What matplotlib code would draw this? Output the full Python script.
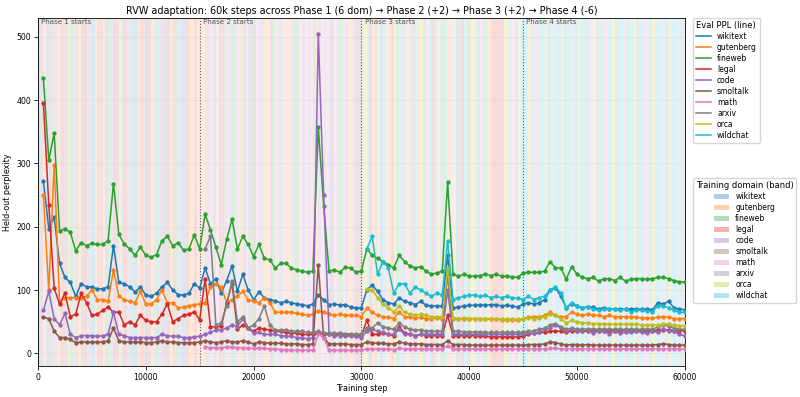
import numpy as np
import matplotlib
matplotlib.use("Agg")
import matplotlib.pyplot as plt
from matplotlib.lines import Line2D
from matplotlib.patches import Patch

domains = ["wikitext", "gutenberg", "fineweb", "legal", "code", "smoltalk",
           "math", "arxiv", "orca", "wildchat"]
colors = ["#1f77b4", "#ff7f0e", "#2ca02c", "#d62728", "#9467bd", "#8c564b",
          "#e377c2", "#7f7f7f", "#bcbd22", "#17becf"]
codes = {"w": "wikitext", "g": "gutenberg", "f": "fineweb", "l": "legal", "c": "code",
         "s": "smoltalk", "m": "math", "a": "arxiv", "o": "orca", "h": "wildchat"}

phase_starts = [0, 15000, 30000, 45000]
phase_labels = ["Phase 1 starts", "Phase 2 starts", "Phase 3 starts", "Phase 4 starts"]
band_width = 250
phase_bands = [
    "wlgwlfcgsl" "wgfcsgwlcf" "wgslgwfcls" "gwlcfwwgls" "wlgfwcswlg" "sfcwwlgglg",
    "mgacmfmlsa" "mcfamgwmas" "fmcagmlfma" "cmgmafsmcm" "amfgcmamws" "mafmcgmalw",
    "gohlgaowhm" "glofhcomas" "hgofmhlaoc" "fhgmowalhf" "gohamfhgll" "llloghmaoh",
    "hhohmahhoa" "hmhhoahhmh" "ohhahmoahh" "mhhoahhmah" "hoahhmhaoh" "hmhaohhmha",
]

steps = np.arange(500, 60001, 500)

wikitext = [272, 197, 215, 142, 120, 112, 90, 110, 105, 105,
            102, 102, 105, 170, 112, 110, 105, 97, 105, 92,
            90, 95, 105, 112, 100, 93, 92, 95, 110, 103,
            135, 110, 118, 95, 115, 138, 98, 125, 100, 85,
            97, 88, 85, 83, 80, 82, 80, 78, 77, 75,
            78, 92, 85, 77, 78, 76, 77, 73, 72, 72,
            100, 108, 98, 85, 80, 78, 88, 82, 80, 77,
            82, 76, 75, 75, 75, 155, 72, 73, 75, 76,
            76, 77, 76, 77, 77, 75, 76, 75, 73, 78,
            80, 78, 80, 85, 100, 104, 90, 72, 78, 75,
            72, 73, 73, 70, 72, 70, 70, 70, 70, 70,
            70, 70, 70, 69, 80, 78, 82, 72, 70, 69]
gutenberg = [250, 100, 298, 80, 88, 88, 88, 88, 90, 100,
             85, 85, 82, 132, 90, 85, 82, 80, 98, 78,
             78, 85, 100, 80, 80, 72, 73, 75, 77, 78,
             80, 105, 110, 105, 80, 85, 90, 98, 85, 82,
             80, 88, 80, 65, 65, 65, 65, 63, 62, 60,
             62, 67, 65, 62, 60, 62, 60, 60, 60, 58,
             72, 65, 60, 58, 57, 55, 65, 58, 57, 56,
             57, 55, 55, 56, 55, 120, 55, 54, 55, 55,
             55, 55, 54, 54, 54, 53, 53, 53, 52, 55,
             57, 58, 58, 60, 65, 60, 58, 58, 65, 62,
             60, 62, 60, 60, 58, 60, 58, 58, 58, 58,
             57, 56, 56, 56, 57, 58, 57, 55, 55, 55]
fineweb = [435, 305, 348, 193, 197, 191, 162, 175, 170, 174,
           172, 172, 178, 268, 188, 173, 165, 155, 168, 155,
           152, 156, 178, 185, 170, 175, 163, 165, 187, 165,
           220, 195, 168, 140, 180, 212, 165, 185, 172, 153,
           172, 150, 148, 135, 142, 142, 135, 132, 130, 128,
           130, 357, 233, 130, 132, 128, 136, 135, 128, 130,
           165, 155, 150, 145, 140, 135, 155, 145, 138, 135,
           137, 130, 125, 127, 130, 270, 125, 122, 125, 122,
           122, 123, 125, 123, 125, 122, 122, 121, 120, 127,
           128, 128, 128, 130, 145, 135, 135, 117, 137, 125,
           120, 118, 120, 114, 118, 118, 115, 120, 114, 117,
           118, 118, 117, 118, 120, 120, 118, 115, 113, 113]
legal = [395, 235, 103, 78, 95, 58, 62, 95, 80, 60,
         62, 68, 73, 65, 65, 45, 50, 45, 60, 52,
         50, 50, 62, 78, 50, 55, 60, 62, 65, 53,
         118, 42, 42, 43, 80, 110, 38, 45, 40, 35,
         40, 38, 37, 35, 35, 33, 32, 32, 30, 30,
         30, 32, 30, 30, 29, 30, 29, 29, 28, 28,
         52, 30, 30, 32, 30, 28, 42, 32, 30, 28,
         30, 28, 28, 28, 28, 60, 28, 28, 28, 28,
         28, 27, 27, 26, 26, 26, 26, 26, 26, 27,
         30, 32, 33, 33, 35, 35, 35, 33, 36, 35,
         35, 35, 36, 35, 35, 36, 36, 36, 36, 36,
         36, 36, 36, 36, 37, 37, 37, 36, 36, 36]
code = [68, 98, 55, 45, 63, 30, 25, 28, 28, 28,
        27, 28, 30, 65, 30, 28, 25, 25, 25, 25,
        25, 25, 30, 28, 27, 27, 25, 25, 26, 27,
        30, 33, 37, 37, 40, 45, 42, 55, 40, 32,
        33, 30, 30, 30, 28, 27, 27, 25, 25, 23,
        25, 505, 250, 30, 28, 28, 27, 27, 27, 25,
        35, 38, 35, 33, 30, 30, 38, 30, 30, 28,
        30, 30, 30, 30, 30, 100, 30, 30, 30, 30,
        30, 30, 30, 30, 30, 30, 30, 30, 30, 30,
        32, 32, 33, 38, 40, 45, 40, 35, 38, 35,
        35, 37, 32, 35, 35, 30, 35, 32, 33, 33,
        35, 33, 32, 35, 33, 38, 35, 35, 30, 28]
smoltalk = [57, 55, 35, 25, 25, 22, 17, 18, 18, 18,
            18, 18, 20, 40, 20, 18, 18, 18, 18, 17,
            17, 18, 20, 18, 18, 17, 17, 17, 17, 18,
            20, 18, 17, 18, 20, 18, 18, 20, 18, 15,
            18, 17, 16, 16, 16, 15, 15, 15, 14, 14,
            15, 140, 25, 15, 15, 15, 15, 14, 14, 14,
            18, 17, 16, 16, 15, 15, 18, 16, 15, 15,
            15, 14, 14, 14, 14, 20, 14, 14, 14, 13,
            13, 13, 13, 13, 13, 13, 13, 13, 13, 13,
            14, 14, 14, 15, 18, 17, 15, 13, 14, 14,
            13, 14, 13, 13, 13, 13, 13, 13, 13, 13,
            13, 13, 13, 13, 14, 15, 14, 13, 13, 13]
math = [None] * 30 + [
        10, 9, 9, 9, 10, 10, 9, 9, 8, 8,
        8, 8, 7, 7, 6, 6, 5, 5, 5, 5,
        5, 30, 25, 5, 5, 5, 5, 5, 5, 5,
        7, 7, 7, 7, 7, 6, 8, 7, 7, 7,
        7, 7, 7, 7, 7, 12, 7, 7, 7, 7,
        7, 7, 7, 7, 7, 7, 7, 7, 7, 7,
        7, 7, 7, 7, 8, 8, 7, 7, 7, 7,
        7, 7, 7, 7, 7, 7, 7, 7, 7, 7,
        7, 7, 7, 7, 7, 7, 7, 7, 7, 7]
arxiv = [None] * 30 + [
         165, 185, 45, 48, 75, 115, 50, 58, 40, 45,
         55, 75, 45, 37, 37, 37, 35, 35, 35, 33,
         33, 35, 32, 32, 32, 32, 31, 31, 30, 30,
         40, 40, 48, 42, 40, 38, 48, 42, 38, 37,
         37, 35, 35, 35, 35, 130, 35, 35, 34, 34,
         34, 34, 33, 33, 33, 33, 33, 33, 33, 33,
         35, 36, 38, 40, 45, 47, 42, 38, 40, 38,
         38, 39, 38, 38, 38, 38, 38, 38, 38, 38,
         38, 38, 38, 38, 42, 45, 43, 40, 38, 38]
orca = [None] * 60 + [
        102, 100, 88, 78, 72, 65, 75, 65, 62, 60,
        62, 60, 58, 58, 58, 135, 56, 55, 56, 55,
        55, 55, 55, 55, 55, 54, 54, 54, 54, 55,
        56, 55, 56, 58, 62, 60, 55, 48, 52, 50,
        48, 48, 47, 47, 47, 46, 46, 46, 46, 46,
        46, 45, 45, 45, 45, 46, 46, 45, 44, 43]
wildchat = [None] * 60 + [
            165, 185, 125, 145, 135, 95, 110, 110, 95, 105,
            100, 95, 90, 95, 92, 178, 85, 88, 90, 92,
            92, 90, 92, 88, 90, 88, 90, 88, 87, 85,
            90, 85, 88, 90, 100, 105, 95, 72, 80, 75,
            72, 74, 70, 68, 70, 70, 70, 68, 70, 66,
            68, 68, 67, 66, 75, 75, 72, 68, 65, 65]

series = [wikitext, gutenberg, fineweb, legal, code, smoltalk, math, arxiv, orca, wildchat]

fig = plt.figure(figsize=(8, 3.97), dpi=100)
ax = fig.add_axes([0.0475, 0.078, 0.8085, 0.877])

# background bands
for p, seq in enumerate(phase_bands):
    for i, ch in enumerate(seq):
        d = codes[ch]
        x0 = phase_starts[p] + i * band_width
        ax.axvspan(x0, x0 + band_width, color=colors[domains.index(d)], alpha=0.16, lw=0, zorder=0)

for name, vals, col in zip(domains, series, colors):
    y = np.array([np.nan if v is None else v for v in vals], dtype=float)
    ax.plot(steps, y, color=col, lw=1.1, marker="o", ms=2.1, zorder=3)

for xs, lab in zip(phase_starts, phase_labels):
    ax.axvline(xs, color="#555577", ls=":", lw=0.8, zorder=2)
    ax.text(xs + 300, 0.997, lab, transform=ax.get_xaxis_transform(), fontsize=5.1,
            color="#555555", va="top", ha="left", zorder=4)

ax.set_xlim(0, 60000)
ax.set_ylim(-20, 530)
ax.grid(True, color="#cccccc", alpha=0.4, lw=0.5)
ax.set_xlabel("Training step", fontsize=5.8, labelpad=1.5)
ax.set_ylabel("Held-out perplexity", fontsize=5.8, labelpad=3)
ax.tick_params(labelsize=5.6, length=2.8, width=0.6, pad=2)
for sp in ax.spines.values():
    sp.set_linewidth(0.6)
ax.set_title("RVW adaptation: 60k steps across Phase 1 (6 dom) \u2192 Phase 2 (+2) \u2192 Phase 3 (+2) \u2192 Phase 4 (-6)",
             fontsize=6.9, pad=3)

line_handles = [Line2D([0], [0], color=c, lw=1.1) for c in colors]
leg1 = ax.legend(line_handles, domains, title="Eval PPL (line)", loc="upper left",
                 bbox_to_anchor=(1.012, 1.0), fontsize=5.5, title_fontsize=6.0,
                 frameon=True, handlelength=2, borderaxespad=0, labelspacing=0.26)
ax.add_artist(leg1)
band_handles = [Patch(facecolor=c, alpha=0.35, lw=0) for c in colors]
ax.legend(band_handles, domains, title="Training domain (band)", loc="upper left",
          bbox_to_anchor=(1.012, 0.54), fontsize=5.5, title_fontsize=6.0,
          frameon=True, handlelength=2, borderaxespad=0, labelspacing=0.26)

fig.savefig("out.png", dpi=100)
